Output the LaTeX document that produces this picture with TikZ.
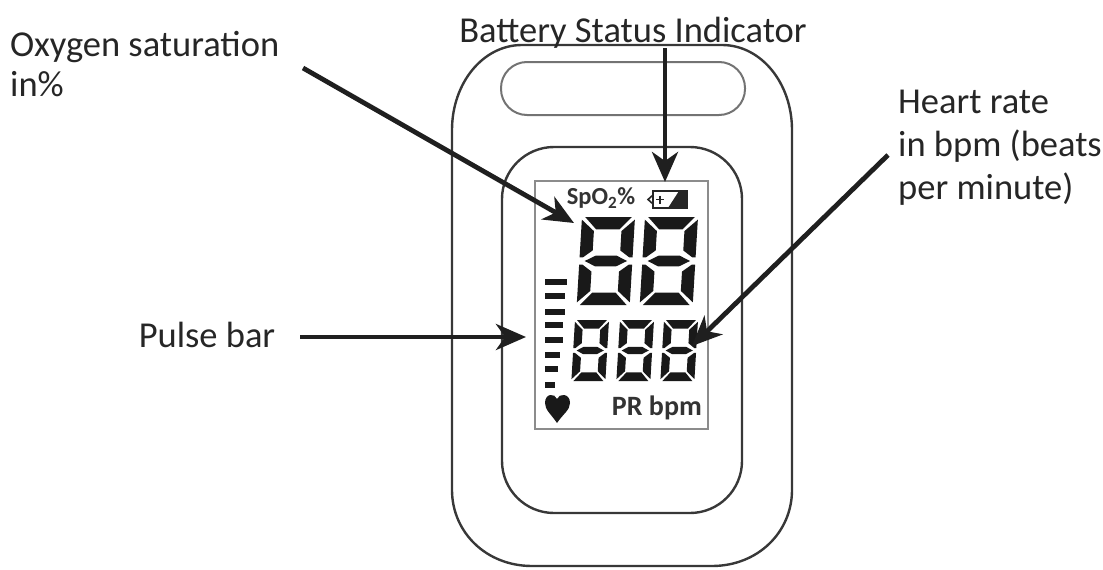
\documentclass[tikz,border=0pt]{standalone}
\usepackage{fontspec}
\setmainfont{Carlito}
\usetikzlibrary{arrows.meta,positioning}
\newcommand{\lcddigit}[4]{%
  \begin{scope}[shift={(#1,#2)},xslant=0.06,xscale=#3,yscale=#4]
    \fill[segment] (.06,0) -- (.94,0) -- (.72,.28) -- (.28,.28) -- cycle;
    \fill[segment] (.06,2) -- (.94,2) -- (.72,1.72) -- (.28,1.72) -- cycle;
    \fill[segment] (.1,1) -- (.3,.88) -- (.7,.88) -- (.9,1) -- (.7,1.12) -- (.3,1.12) -- cycle;
    \fill[segment] (0,.06) -- (.24,.32) -- (.24,.76) -- (.06,.92) -- (0,.92) -- cycle;
    \fill[segment] (1,.06) -- (.76,.32) -- (.76,.76) -- (.94,.92) -- (1,.92) -- cycle;
    \fill[segment] (0,1.94) -- (.24,1.68) -- (.24,1.24) -- (.06,1.08) -- (0,1.08) -- cycle;
    \fill[segment] (1,1.94) -- (.76,1.68) -- (.76,1.24) -- (.94,1.08) -- (1,1.08) -- cycle;
  \end{scope}}
\begin{document}
\begin{tikzpicture}[
    x=1pt,y=-1pt,
    outline/.style={draw=black!78,line width=2.4pt},
    segment/.style={black!90},
    callout/.style={align=left,inner sep=0pt,text=black!85,
                    font=\fontsize{36.5}{#1}\selectfont},
    callout/.default=43,
    lcdtext/.style={inner sep=0pt,text=black!80,font=\fontsize{#1}{30}\selectfont\bfseries},
    arrow/.style={-{Stealth[length=30pt,width=26pt,inset=9pt]},line width=4.8pt,black!88},
]
  \useasboundingbox (0,0) rectangle (1103,570);
  % Device body
  \draw[outline] (522,45) -- (722,45)
    .. controls (761,45) and (792,83) .. (792,130) -- (792,490)
    .. controls (792,532) and (758,566) .. (712,566) -- (532,566)
    .. controls (486,566) and (452,532) .. (452,490) -- (452,130)
    .. controls (452,83) and (483,45) .. (522,45) -- cycle;
  \draw[outline,draw=black!55,line width=2pt,rounded corners=26pt] (501,62) rectangle (745,115);
  \draw[outline,rounded corners=52pt] (502,147) rectangle (742,513);
  \draw[draw=black!45,line width=2.4pt] (535,181) rectangle (708,429);

  % Display
  \lcddigit{582}{217}{53}{44}
  \lcddigit{645}{217}{53}{44}
  \lcddigit{575}{320}{34}{30.5}
  \lcddigit{620}{320}{34}{30.5}
  \lcddigit{664}{320}{34}{30.5}
  \foreach \ypos/\barlen in {282/22,296/20,312/20,325/18,340/18,355/15,369/13,385/10}
    \fill[segment] (545,\ypos-3) rectangle ++(\barlen,6);
  \fill[segment] (557,423) .. controls (551,414) and (545,410) .. (545,403)
    .. controls (545,393) and (555,393) .. (557,399)
    .. controls (559,393) and (570,393) .. (570,403)
    .. controls (570,410) and (563,414) .. (557,423) -- cycle;
  \node[lcdtext=24.5] (spo) at (601,198) {SpO\textsubscript{2}\%};
  \node[lcdtext=28,anchor=east] (prbpm) at (702,408) {PR bpm};
  % Battery icon
  \draw[black!85,line width=1.6pt] (653,191) rectangle (687,208);
  \fill[black!85] (668,208) -- (679,191) -- (687,191) -- (687,208) -- cycle;
  \draw[black!85,line width=1.6pt] (653,195) -- (648,199.5) -- (653,204);
  \draw[black!85,line width=1.4pt] (656,199.5) -- (664,199.5) (660,195.5) -- (660,203.5);

  % Labels
  \node[callout=40,anchor=north west] (oxygen) at (10,31) {Oxygen saturation\\in\%};
  \node[callout] (battery) at (633,33) {Battery Status Indicator};
  \node[callout,anchor=north west] (heart) at (898,90) {Heart rate\\in bpm (beats\\per minute)};
  \node[callout] (pulse) at (207,335) {Pulse bar};

  % Arrow ends
  \coordinate (oxygenstart) at (303,68);
  \coordinate (oxygenend) at (574,223);
  \coordinate (batterystart) at (665,48);
  \coordinate (batteryend) at (665,182);
  \coordinate (heartstart) at (888,155);
  \coordinate (heartend) at (692,346);
  \coordinate (pulsestart) at (300,337);
  \coordinate (pulseend) at (526,337);

  % Arrows
  \draw[arrow] (oxygenstart) -- (oxygenend);
  \draw[arrow] (batterystart) -- (batteryend);
  \draw[arrow] (heartstart) -- (heartend);
  \draw[arrow] (pulsestart) -- (pulseend);
\end{tikzpicture}
\end{document}
